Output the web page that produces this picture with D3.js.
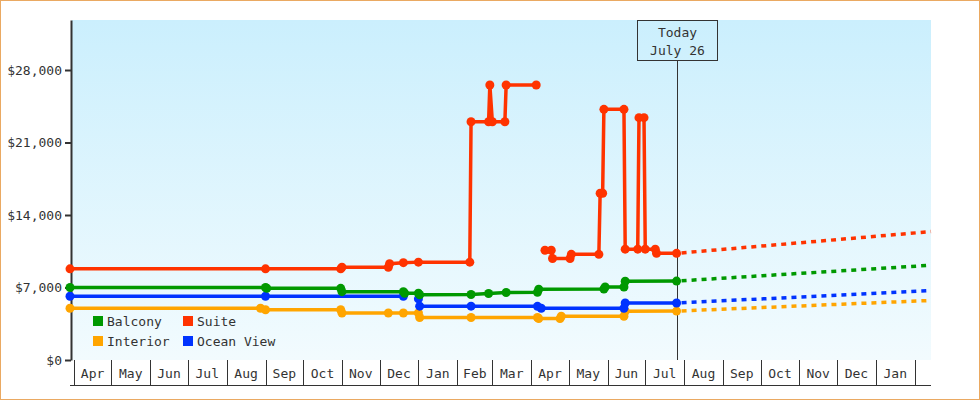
<!DOCTYPE html>
<html lang="en">
<head>
<meta charset="UTF-8">
<title>Cabin prices</title>
<script src="https://d3js.org/d3.v7.min.js"></script>
<style>
    body { margin: 0; padding: 0; background: #fff; }
    svg { display: block; }
    text { font-family: "DejaVu Sans Mono", monospace; font-size: 13px; fill: #333; }
</style>
</head>
<body>
<div id="canvas"></div>
<script>
// price history per cabin type: [date, price], null = no data
var categories = ["Balcony", "Suite", "Interior", "Ocean View"];
var colors = ["#009900", "#ff3300", "#ffa500", "#0033ff"];

var balcony = [
    ["2013-03-29", 7000], ["2013-09-01", 7000], ["2013-09-02", 6920],
    ["2013-10-31", 6920], ["2013-11-01", 6600], ["2013-12-20", 6600],
    ["2013-12-21", 6440], ["2014-01-01", 6440], ["2014-01-02", 6300],
    ["2014-02-12", 6320], ["2014-02-26", 6420], ["2014-03-12", 6520],
    ["2014-04-06", 6540], ["2014-04-07", 6830], ["2014-05-29", 6850],
    ["2014-05-30", 7050], ["2014-06-14", 7050], ["2014-06-15", 7600],
    ["2014-07-26", 7620]
];
var suite = [
    ["2013-03-29", 8800], ["2013-09-01", 8800], ["2013-10-31", 8800],
    ["2013-11-01", 8950], ["2013-12-08", 8950], ["2013-12-09", 9300],
    ["2013-12-20", 9400], ["2014-01-01", 9450], ["2014-02-11", 9450],
    ["2014-02-12", 23000], ["2014-02-26", 23000], ["2014-02-27", 26550],
    ["2014-03-01", 23000], ["2014-03-11", 23000], ["2014-03-12", 26550],
    ["2014-04-05", 26550], ["2014-04-08", null], ["2014-04-12", 10600],
    ["2014-04-17", 10600], ["2014-04-18", 9800], ["2014-05-02", 9800],
    ["2014-05-03", 10200], ["2014-05-25", 10200], ["2014-05-26", 16100],
    ["2014-05-28", 16100], ["2014-05-29", 24200], ["2014-06-14", 24200],
    ["2014-06-15", 10700], ["2014-06-25", 10700], ["2014-06-26", 23400],
    ["2014-06-30", 23400], ["2014-07-01", 10700], ["2014-07-09", 10700],
    ["2014-07-10", 10300], ["2014-07-26", 10300]
];
var interior = [
    ["2013-03-29", 5000], ["2013-08-28", 5000], ["2013-09-01", 4850],
    ["2013-10-31", 4850], ["2013-11-01", 4540], ["2013-12-08", 4540],
    ["2013-12-20", 4540], ["2014-01-01", 4540], ["2014-01-02", 4100],
    ["2014-02-12", 4100], ["2014-04-06", 4100], ["2014-04-07", 4000],
    ["2014-04-24", 4000], ["2014-04-25", 4220], ["2014-06-14", 4220],
    ["2014-06-15", 4700], ["2014-07-26", 4720]
];
var oceanView = [
    ["2013-03-29", 6150], ["2013-09-01", 6150], ["2013-12-20", 6150],
    ["2013-12-25", null], ["2014-01-01", 5900], ["2014-01-02", 5200],
    ["2014-02-12", 5200], ["2014-04-06", 5180], ["2014-04-09", 5000],
    ["2014-06-14", 5000], ["2014-06-15", 5500], ["2014-07-26", 5500]
];

// projected price at end of the window
var projected = [9150, 12400, 5750, 6700];

var yTicks = [0, 7000, 14000, 21000, 28000];
var startDate = "2013-03-29", endDate = "2015-02-14", todayDate = "2014-07-26";
var todayLabel = ["Today", "July 26"];

var parseDate = d3.timeParse("%Y-%m-%d");
var seriesData = [balcony, suite, interior, oceanView];
var drawOrder = [2, 3, 0, 1];

var width = 980, height = 400;
var plot = {left: 70, right: 931, top: 20, bottom: 360};

var svg = d3.select("#canvas").append("svg")
    .attr("width", width)
    .attr("height", height);

var x = d3.scaleTime()
    .domain([parseDate(startDate), parseDate(endDate)])
    .range([plot.left, plot.right]);

var y = d3.scaleLinear()
    .domain([0, 32828])
    .range([plot.bottom, plot.top]);

// background gradient
var grad = svg.append("defs").append("linearGradient")
    .attr("id", "bg")
    .attr("x1", 0).attr("y1", 0).attr("x2", 0).attr("y2", 1);
grad.append("stop").attr("offset", "0%").attr("stop-color", "#cbeffd");
grad.append("stop").attr("offset", "100%").attr("stop-color", "#f2fbfe");

svg.append("rect")
    .attr("x", plot.left + 2)
    .attr("y", plot.top)
    .attr("width", plot.right - plot.left - 2)
    .attr("height", plot.bottom - plot.top)
    .style("fill", "url(#bg)");

// x axis: one cell per month
var months = d3.timeMonth.range(x.domain()[0], x.domain()[1]);
var xAxis = svg.append("g");
xAxis.selectAll("line.sep")
    .data(months)
    .enter().append("line")
    .attr("class", "sep")
    .attr("x1", function(d) { return Math.round(x(d)) + 0.5; })
    .attr("x2", function(d) { return Math.round(x(d)) + 0.5; })
    .attr("y1", plot.bottom)
    .attr("y2", plot.bottom + 25)
    .style("stroke", "#333");
xAxis.append("line")
    .attr("x1", plot.left).attr("x2", plot.right)
    .attr("y1", plot.bottom + 25.5).attr("y2", plot.bottom + 25.5)
    .style("stroke", "#333");
xAxis.selectAll("text")
    .data(months.slice(0, -1))
    .enter().append("text")
    .attr("x", function(d, i) { return (x(d) + x(months[i + 1])) / 2; })
    .attr("y", plot.bottom + 18)
    .attr("text-anchor", "middle")
    .text(d3.timeFormat("%b"));

// y axis
var yAxis = svg.append("g")
    .attr("transform", "translate(" + (plot.left + 1) + ",0)")
    .call(d3.axisLeft(y).tickValues(yTicks).tickFormat(d3.format("$,")).tickSize(6).tickSizeOuter(0).tickPadding(3));
yAxis.select(".domain").style("stroke", "#333").style("stroke-width", 2);
yAxis.selectAll(".tick line").style("stroke", "#333").style("stroke-width", 2);
yAxis.selectAll(".tick text")
    .attr("font-family", null).attr("font-size", null)
    .style("fill", "#333");
yAxis.attr("font-family", null).attr("font-size", null);

// today marker
var today = parseDate(todayDate);
var tx = Math.round(x(today)) + 0.5;
svg.append("line")
    .attr("x1", tx).attr("x2", tx)
    .attr("y1", plot.top + 40).attr("y2", plot.bottom)
    .style("stroke", "#333");
svg.append("rect")
    .attr("x", tx - 40).attr("y", plot.top + 0.5)
    .attr("width", 80).attr("height", 40)
    .style("fill", "none").style("stroke", "#333");
svg.selectAll("text.today")
    .data(todayLabel)
    .enter().append("text")
    .attr("class", "today")
    .attr("x", tx)
    .attr("y", function(d, i) { return plot.top + 17 + i * 18; })
    .attr("text-anchor", "middle")
    .text(function(d) { return d; });

// series
var line = d3.line()
    .defined(function(d) { return d.value !== null; })
    .x(function(d) { return x(d.date); })
    .y(function(d) { return y(d.value); });

drawOrder.forEach(function(k) {
    var data = seriesData[k].map(function(p) { return {date: parseDate(p[0]), value: p[1]}; });
    var last = data[data.length - 1];
    var proj = [last, {date: x.domain()[1], value: projected[k]}];
    var g = svg.append("g");

    g.append("path")
        .datum(proj)
        .attr("d", line)
        .style("fill", "none")
        .style("stroke", colors[k])
        .style("stroke-width", 3.5)
        .style("stroke-dasharray", "5,5")
        .style("stroke-dashoffset", 5);

    g.append("path")
        .datum(data)
        .attr("d", line)
        .style("fill", "none")
        .style("stroke", colors[k])
        .style("stroke-width", 3.5);

    g.selectAll("circle")
        .data(data.filter(function(d) { return d.value !== null; }))
        .enter().append("circle")
        .attr("cx", function(d) { return x(d.date); })
        .attr("cy", function(d) { return y(d.value); })
        .attr("r", 4.5)
        .style("fill", colors[k]);
});

// legend
var legend = svg.append("g").selectAll("g")
    .data(categories)
    .enter().append("g")
    .attr("transform", function(d, i) {
        return "translate(" + (93 + (i % 2) * 90) + "," + (316 + Math.floor(i / 2) * 20) + ")";
    });
legend.append("rect")
    .attr("width", 10).attr("height", 10)
    .style("fill", function(d, i) { return colors[i]; });
legend.append("text")
    .attr("x", 14).attr("y", 9.5)
    .text(function(d) { return d; });

// outer frame
svg.append("rect")
    .attr("x", 0.5).attr("y", 0.5)
    .attr("width", width - 1).attr("height", height - 1)
    .style("fill", "none")
    .style("stroke", "#eaa962");
</script>
</body>
</html>
